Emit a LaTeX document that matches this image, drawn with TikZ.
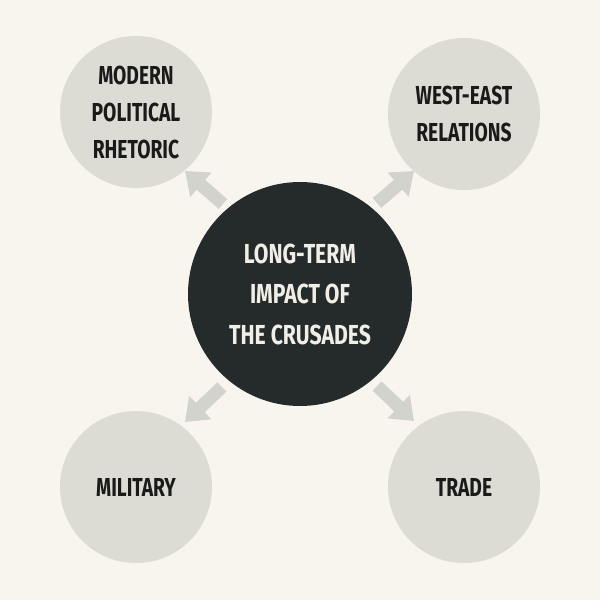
\documentclass[tikz,border=0pt]{standalone}
\usepackage{fontspec}
\setmainfont{Fira Sans}[FakeStretch=0.74]
\newfontfamily\hubfont{Fira Sans}[FakeStretch=0.77]
\usetikzlibrary{arrows.meta}
\definecolor{bgcol}{HTML}{F8F5EE}
\definecolor{outercol}{HTML}{DCDBD4}
\definecolor{centercol}{HTML}{252B2B}
\definecolor{arrowcol}{HTML}{D3D3CE}
\definecolor{darktext}{HTML}{1A1A1A}
\definecolor{lighttext}{HTML}{F0EEE6}
\tikzset{
  outer/.style={circle, fill=outercol, minimum size=152pt, inner sep=0pt, align=center,
    text=darktext, font=\fontsize{26}{37}\selectfont\bfseries},
  hub/.style={circle, fill=centercol, minimum size=224pt, inner sep=0pt, align=center,
    text=lighttext, font=\hubfont\fontsize{27.5}{40.5}\selectfont\bfseries},
  fatarrow/.style={draw=arrowcol, line width=13pt, -{Triangle[length=21pt, width=31pt]}}
}
\begin{document}
\begin{tikzpicture}[x=1pt,y=-1pt]
\fill[bgcol] (0,0) rectangle (600,600);
\useasboundingbox (0,0) rectangle (600,600);
\node[hub] (hub) at (300,294) {LONG-TERM\\IMPACT OF\\THE CRUSADES};
\node[outer] (rhet) at (136,112) {MODERN\\POLITICAL\\RHETORIC};
\node[outer] (west) at (464,114) {WEST-EAST\\RELATIONS};
\node[outer] (mil) at (136,487) {MILITARY};
\node[outer] (trade) at (464,487) {TRADE};
\coordinate (a1s) at (223,204); \coordinate (a1e) at (185,171);
\coordinate (a2s) at (377,203); \coordinate (a2e) at (414,171);
\coordinate (a3s) at (222,387); \coordinate (a3e) at (185,422);
\coordinate (a4s) at (377,386); \coordinate (a4e) at (414,421);
\draw[fatarrow] (a1s) -- (a1e);
\draw[fatarrow] (a2s) -- (a2e);
\draw[fatarrow] (a3s) -- (a3e);
\draw[fatarrow] (a4s) -- (a4e);
\end{tikzpicture}
\end{document}
